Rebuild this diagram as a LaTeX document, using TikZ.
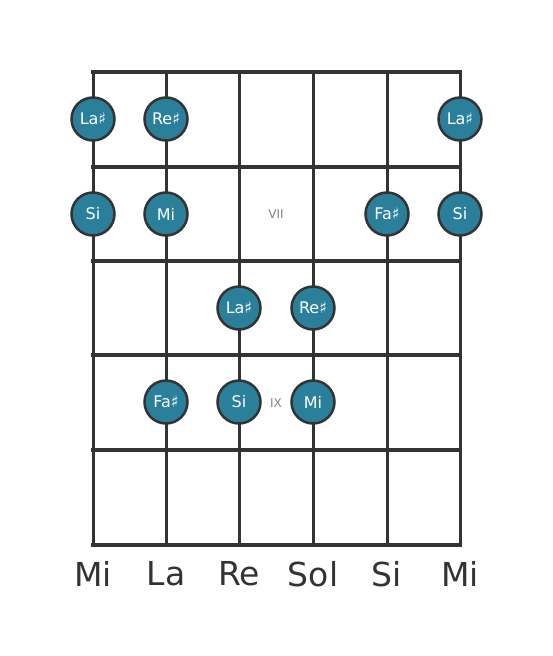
\documentclass[tikz,border=0pt]{standalone}
\usepackage{fontspec}
\setmainfont{DejaVu Sans}
\definecolor{dotblue}{RGB}{42,128,155}
\definecolor{linegray}{RGB}{51,51,51}
\definecolor{fretnum}{RGB}{130,130,130}
\begin{document}
\begin{tikzpicture}[x=1pt,y=-1pt,
  note/.style={circle,draw=linegray,line width=2.5pt,fill=dotblue,minimum size=43pt,inner sep=0pt,text=white,font=\fontsize{16}{16}\selectfont},
  string/.style={draw=linegray,line width=3pt},
  fret/.style={draw=linegray,line width=4.5pt},
  strname/.style={text=linegray,font=\fontsize{33}{33}\selectfont},
  fretno/.style={text=fretnum,font=\fontsize{12}{12}\selectfont}] %
    \useasboundingbox (0,0) rectangle (553,656);
    % strings
    \coordinate (s1t) at (93,72); \coordinate (s1b) at (93,545);
    \coordinate (s2t) at (166,72); \coordinate (s2b) at (166,545);
    \coordinate (s3t) at (239,72); \coordinate (s3b) at (239,545);
    \coordinate (s4t) at (313,72); \coordinate (s4b) at (313,545);
    \coordinate (s5t) at (387,72); \coordinate (s5b) at (387,545);
    \coordinate (s6t) at (460,72); \coordinate (s6b) at (460,545);
    \draw[string] (s1t)--(s1b);
    \draw[string] (s2t)--(s2b);
    \draw[string] (s3t)--(s3b);
    \draw[string] (s4t)--(s4b);
    \draw[string] (s5t)--(s5b);
    \draw[string] (s6t)--(s6b);
    % frets
    \coordinate (f0l) at (91,72); \coordinate (f0r) at (462,72);
    \coordinate (f1l) at (91,167); \coordinate (f1r) at (462,167);
    \coordinate (f2l) at (91,261); \coordinate (f2r) at (462,261);
    \coordinate (f3l) at (91,355); \coordinate (f3r) at (462,355);
    \coordinate (f4l) at (91,450); \coordinate (f4r) at (462,450);
    \coordinate (f5l) at (91,545); \coordinate (f5r) at (462,545);
    \draw[fret] (f0l)--(f0r);
    \draw[fret] (f1l)--(f1r);
    \draw[fret] (f2l)--(f2r);
    \draw[fret] (f3l)--(f3r);
    \draw[fret] (f4l)--(f4r);
    \draw[fret] (f5l)--(f5r);
    % fret numbers
    \node[fretno] (vii) at (276,214) {VII};
    \node[fretno] (ix) at (276,403) {IX};
    % notes
    \node[note] (lasA) at (93,119) {La♯};
    \node[note] (resA) at (166,119) {Re♯};
    \node[note] (lasB) at (460,119) {La♯};
    \node[note] (siA) at (93,214) {Si};
    \node[note] (miA) at (166,214) {Mi};
    \node[note] (fasA) at (387,214) {Fa♯};
    \node[note] (siB) at (460,214) {Si};
    \node[note] (lasC) at (239,308) {La♯};
    \node[note] (resB) at (313,308) {Re♯};
    \node[note] (fasB) at (166,402) {Fa♯};
    \node[note] (siC) at (239,402) {Si};
    \node[note] (miB) at (313,402) {Mi};
    % string names
    \node[strname] (n1) at (93,574) {Mi};
    \node[strname] (n2) at (166,574) {La};
    \node[strname] (n3) at (239,574) {Re};
    \node[strname] (n4) at (313,574) {Sol};
    \node[strname] (n5) at (387,574) {Si};
    \node[strname] (n6) at (460,574) {Mi};
  \end{tikzpicture}
\end{document}
